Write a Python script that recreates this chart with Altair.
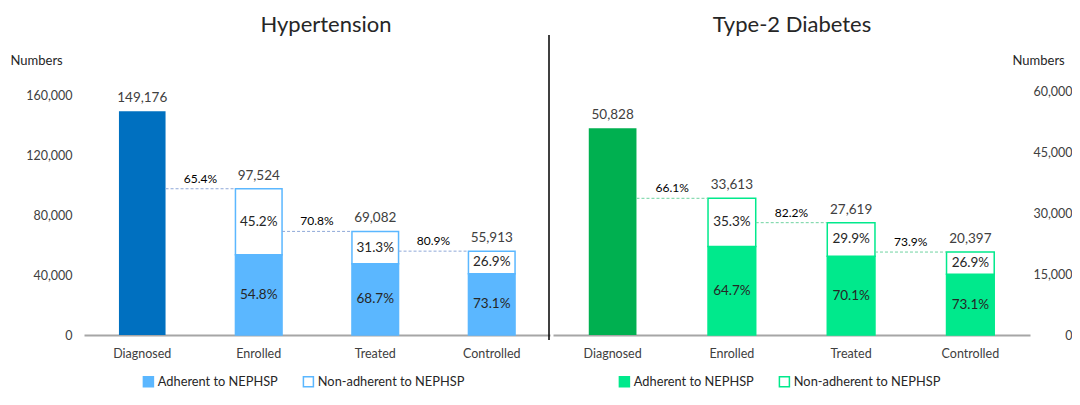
import altair as alt
import pandas as pd

FONT = "Lato"

STAGES = ["Diagnosed", "Enrolled", "Treated", "Controlled"]
ADH = "Adherent to NEPHSP"
NON = "Non-adherent to NEPHSP"

# Hypertension
HT_TOTALS = [149176, 97524, 69082, 55913]
HT_ADH_PCT = [54.8, 68.7, 73.1]      # Enrolled, Treated, Controlled
HT_NON_PCT = [45.2, 31.3, 26.9]
HT_CONV = [65.4, 70.8, 80.9]         # Diagnosed->Enrolled, Enrolled->Treated, Treated->Controlled

# Type-2 diabetes
T2_TOTALS = [50828, 33613, 27619, 20397]
T2_ADH_PCT = [64.7, 70.1, 73.1]
T2_NON_PCT = [35.3, 29.9, 26.9]
T2_CONV = [66.1, 82.2, 73.9]

HT_TICKS = [0, 40000, 80000, 120000, 160000]
T2_TICKS = [0, 15000, 30000, 45000, 60000]

H = 244
LABEL_EXPR = "format(datum.value, ',')"


def panel(totals, adh, non, conv, c_diag, c_light, c_dash, title, width,
          ydomain, yticks, right, title_x, legend_x, divider):
    step = width / 4.0
    bw = step * 0.4
    seg_rows = []
    for i, (a, n) in enumerate(zip(adh, non)):
        st = STAGES[i + 1]
        tot = totals[i + 1]
        av = tot * a / 100.0
        nv = tot * n / 100.0
        seg_rows.append(dict(stage=st, segment=ADH, lo=0, hi=av, mid=av / 2, label=f"{a:.1f}%"))
        seg_rows.append(dict(stage=st, segment=NON, lo=av, hi=av + nv, mid=av + nv / 2, label=f"{n:.1f}%"))
    seg = pd.DataFrame(seg_rows)
    tot_df = pd.DataFrame({"stage": STAGES, "total": totals})
    conv_df = pd.DataFrame({
        "frm": STAGES[:-1], "to": STAGES[1:], "y": totals[1:],
        "label": [f"{c:.1f}%" for c in conv]})

    xsc = alt.Scale(domain=STAGES, paddingInner=0, paddingOuter=0)
    xax = alt.Axis(title=None, labelAngle=0, ticks=False, domainColor="#A6A6A6",
                   domainWidth=2, labelPadding=12, labelFontSize=12.5, labelColor="#404040",
                   labelFont=FONT, grid=False)
    ysc = alt.Scale(domain=ydomain, nice=False, zero=True)
    common = dict(values=yticks, labelExpr=LABEL_EXPR, title="Numbers", titleAngle=0,
                  titleAlign="left", titleBaseline="middle", titleY=-31,
                  titleFontWeight="normal", titleFontSize=13, titleFont=FONT,
                  titleColor="#262626", grid=False, domain=False, ticks=False,
                  labelFontSize=12.5, labelFont=FONT, labelColor="#404040")
    if not right:
        yax = alt.Axis(titleX=-74, labelPadding=12, orient="left", **common)
    else:
        yax = alt.Axis(titleX=-18, labelPadding=42, labelAlign="right", orient="right", **common)

    X = lambda f: alt.X(f"{f}:N", scale=xsc, axis=xax, sort=STAGES)

    diag = alt.Chart(tot_df[tot_df.stage == "Diagnosed"]).mark_bar(
        width=alt.RelativeBandSize(0.4), color=c_diag).encode(
        x=X("stage"), y=alt.Y("total:Q", scale=ysc, axis=yax))

    legend = alt.Legend(title=None, orient="none", legendX=legend_x, legendY=H + 40,
                        direction="horizontal", symbolType="square", symbolSize=100,
                        symbolStrokeWidth=1.5, labelFontSize=12.8, labelFont=FONT,
                        labelColor="#262626", columnPadding=22, labelOffset=3)
    segs = alt.Chart(seg).mark_bar(width=alt.RelativeBandSize(0.4), strokeWidth=1.5).encode(
        x=X("stage"),
        y=alt.Y("hi:Q", scale=ysc, axis=yax), y2="lo:Q",
        fill=alt.Fill("segment:N", scale=alt.Scale(domain=[ADH, NON], range=[c_light, "#FFFFFF"]), legend=legend),
        stroke=alt.Stroke("segment:N", scale=alt.Scale(domain=[ADH, NON], range=[c_light, c_light]), legend=legend),
    )
    seg_txt = alt.Chart(seg).mark_text(fontSize=13.5, font=FONT, color="#262626", baseline="middle").encode(
        x=X("stage"), y=alt.Y("mid:Q", scale=ysc, axis=yax), text="label:N")
    tot_txt = alt.Chart(tot_df).mark_text(fontSize=13.5, font=FONT, color="#404040", baseline="bottom", dy=-6).encode(
        x=X("stage"), y=alt.Y("total:Q", scale=ysc, axis=yax), text=alt.Text("total:Q", format=","))
    rule = alt.Chart(conv_df).mark_rule(xOffset=bw / 2, x2Offset=-bw / 2, strokeDash=[3, 2],
                                        color=c_dash, strokeWidth=1).encode(
        x=X("frm"), x2="to:N", y=alt.Y("y:Q", scale=ysc, axis=yax))
    conv_txt = alt.Chart(conv_df).mark_text(xOffset=step / 2, dy=-3, baseline="bottom", fontSize=12,
                                            font=FONT, color="#000000").encode(
        x=X("frm"), y=alt.Y("y:Q", scale=ysc, axis=yax), text="label:N")
    ttl = alt.Chart(pd.DataFrame({"t": [title]})).mark_text(
        fontSize=22, font=FONT, color="#262626", baseline="middle", align="center").encode(
        x=alt.value(title_x), y=alt.value(-66), text="t:N")
    layers = [diag, segs, seg_txt, tot_txt, rule, conv_txt, ttl]
    if divider:
        div = alt.Chart(pd.DataFrame({"d": [1]})).mark_rule(color="#000000", strokeWidth=1.5).encode(
            x=alt.value(width - 1), y=alt.value(-56), y2=alt.value(H + 5))
        layers.append(div)
    return alt.layer(*layers).properties(width=width, height=H)


left = panel(HT_TOTALS, HT_ADH_PCT, HT_NON_PCT, HT_CONV, "#0070C0", "#5BB7FF", "#8FA8D8",
             "Hypertension", 466, [0, 162700], HT_TICKS, False, 242, 58, True)
right = panel(T2_TOTALS, T2_ADH_PCT, T2_NON_PCT, T2_CONV, "#00B050", "#00E98C", "#6FD3A0",
              "Type-2 Diabetes", 477, [0, 60000], T2_TICKS, True, 239, 65, False)

chart = alt.hconcat(left, right, spacing=3).resolve_scale(
    x="independent", y="independent", fill="independent", stroke="independent"
).resolve_legend(fill="independent", stroke="independent").properties(
    padding={"left": 2, "top": 6, "right": 0, "bottom": 0}
).configure_view(stroke=None)

chart.save("out.html", embed_options={"renderer": "svg", "actions": False})
